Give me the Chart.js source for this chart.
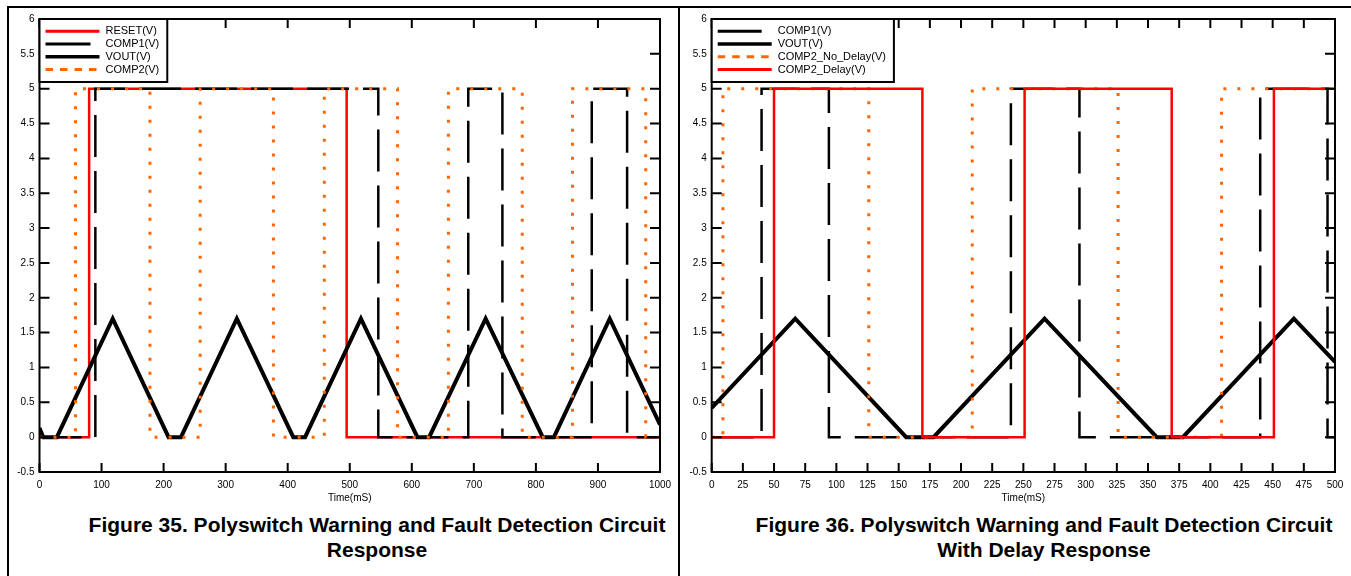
<!DOCTYPE html>
<html lang="en">
<head>
<meta charset="UTF-8" />
<title>Polyswitch Warning and Fault Detection Circuit</title>
<script src="https://cdn.jsdelivr.net/npm/chart.js"></script>
<style>
  body {
    margin: 0;
    background: #fff;
    font-family: "Liberation Sans", Arial, sans-serif;
  }
  #page {
    position: relative;
    width: 1351px;
    height: 576px;
    overflow: hidden;
  }
  .rule {
    position: absolute;
    background: #000;
  }
  .plot {
    position: absolute;
    top: 0;
  }
  .caption {
    position: absolute;
    width: 640px;
    top: 512px;
    font-weight: bold;
    font-size: 21px;
    line-height: 25px;
    text-align: center;
    white-space: nowrap;
    color: #000;
  }
</style>
</head>
<body>
<div id="page">
  <div class="rule" style="left:7px;top:6px;width:1344px;height:2px"></div>
  <div class="rule" style="left:7px;top:6px;width:2px;height:570px"></div>
  <div class="rule" style="left:678px;top:6px;width:2px;height:570px"></div>

  <div class="plot" style="left:0"><canvas id="fig35" width="680" height="510"></canvas></div>
  <div class="plot" style="left:680px"><canvas id="fig36" width="671" height="510"></canvas></div>

  <div class="caption" style="left:57px">Figure 35. Polyswitch Warning and Fault Detection Circuit<br>Response</div>
  <div class="caption" style="left:724px">Figure 36. Polyswitch Warning and Fault Detection Circuit<br>With Delay Response</div>
</div>

<script>
  // Figure 35, time in ms, level in V (step series list the value that starts at each time)
  const f35ResetT = [0, 80, 495, 1000];
  const f35ResetV = [0, 5, 0, 0];
  const f35Comp1T = [0, 90, 546, 691, 746, 890, 947, 1000];
  const f35Comp1V = [0, 5, 0, 5, 0, 5, 0, 0];
  const f35VoutT = [0, 6, 28, 118, 208, 228, 318, 409, 428, 518, 609, 628, 719, 811, 829, 919, 1000];
  const f35VoutV = [0.13, 0, 0, 1.7, 0, 0, 1.7, 0, 0, 1.7, 0, 0, 1.7, 0, 0, 1.7, 0.18];
  const f35Comp2T = [0, 58, 178, 259, 377, 459, 577, 659, 778, 859, 977, 1000];
  const f35Comp2V = [0, 5, 0, 5, 0, 5, 0, 5, 0, 5, 0, 0];

  // Figure 36
  const f36Comp1T = [0, 40, 94, 240, 295, 440, 494, 500];
  const f36Comp1V = [0, 5, 0, 5, 0, 5, 0, 0];
  const f36VoutT = [0, 67, 156, 178, 267, 357, 378, 467, 500];
  const f36VoutV = [0.42, 1.7, 0, 0, 1.7, 0, 0, 1.7, 1.08];
  const f36NoDelayT = [0, 9, 126, 209, 326, 409, 500];
  const f36NoDelayV = [0, 5, 0, 5, 0, 5, 5];
  const f36DelayT = [0, 50, 169, 251, 369, 451, 500];
  const f36DelayV = [0, 5, 0, 5, 0, 5, 5];

  // axis ticks
  const yTicks = [-0.5, 0, 0.5, 1, 1.5, 2, 2.5, 3, 3.5, 4, 4.5, 5, 5.5, 6];
  const f35XTicks = [0, 100, 200, 300, 400, 500, 600, 700, 800, 900, 1000];
  const f36XTicks = [0, 25, 50, 75, 100, 125, 150, 175, 200, 225, 250, 275, 300, 325, 350, 375, 400, 425, 450, 475, 500];

  const ORANGE = "#ff6600";
  const RED = "#ff0000";

  Chart.defaults.font.family = '"Liberation Sans", Arial, sans-serif';
  Chart.defaults.font.size = 10;
  Chart.defaults.color = "#000";

  function toPoints(t, v) {
    return t.map((x, i) => ({ x: x, y: v[i] }));
  }

  // plot box, inward ticks on all four sides, and the boxed legend
  const framePlugin = {
    id: "frame",
    afterDraw(chart) {
      const { ctx, chartArea: a } = chart;
      const x = chart.scales.x;
      const y = chart.scales.y;
      ctx.save();
      ctx.strokeStyle = "#000";
      ctx.lineWidth = 2;
      ctx.beginPath();
      x.ticks.forEach((t) => {
        const px = x.getPixelForValue(t.value);
        ctx.moveTo(px, a.bottom);
        ctx.lineTo(px, a.bottom - 9);
        ctx.moveTo(px, a.top);
        ctx.lineTo(px, a.top + 9);
      });
      y.ticks.forEach((t) => {
        const py = y.getPixelForValue(t.value);
        ctx.moveTo(a.left, py);
        ctx.lineTo(a.left + 10, py);
        ctx.moveTo(a.right, py);
        ctx.lineTo(a.right - 10, py);
      });
      ctx.stroke();
      ctx.strokeRect(a.left, a.top, a.right - a.left, a.bottom - a.top);

      // legend
      const sets = chart.data.datasets;
      ctx.font = '11px "Liberation Sans", Arial, sans-serif';
      const maxW = Math.max(...sets.map((d) => ctx.measureText(d.label).width));
      const boxW = 66 + maxW + 8;
      const boxH = 63;
      ctx.fillStyle = "#fff";
      ctx.fillRect(a.left, a.top, boxW, boxH);
      ctx.strokeRect(a.left, a.top, boxW, boxH);
      sets.forEach((d, i) => {
        const yy = a.top + 12.3 + i * 12.75;
        ctx.beginPath();
        ctx.setLineDash(d.legendDash);
        ctx.lineWidth = d.legendWidth;
        ctx.strokeStyle = d.borderColor;
        ctx.moveTo(a.left + 6, yy);
        ctx.lineTo(a.left + 60, yy);
        ctx.stroke();
        ctx.setLineDash([]);
        ctx.fillStyle = "#000";
        ctx.textBaseline = "middle";
        ctx.fillText(d.label, a.left + 66, yy);
      });
      ctx.restore();
    },
  };

  function makeOptions(xMax, xTicks, yAxisWidth, rightPad) {
    return {
      responsive: false,
      animation: false,
      events: [],
      layout: { padding: { top: 19, right: rightPad, left: 0, bottom: 0 } },
      elements: { point: { radius: 0 }, line: { tension: 0 } },
      plugins: { legend: { display: false }, tooltip: { enabled: false } },
      scales: {
        x: {
          type: "linear",
          min: 0,
          max: xMax,
          grid: { display: false, drawTicks: false },
          border: { display: false },
          afterBuildTicks: (s) => {
            s.ticks = xTicks.map((v) => ({ value: v }));
          },
          afterFit: (s) => {
            s.height = 38;
          },
          ticks: { padding: 7, autoSkip: false, maxRotation: 0, callback: (v) => String(v) },
          title: { display: true, text: "Time(mS)", padding: { top: 0, bottom: 6 }, font: { size: 10 } },
        },
        y: {
          min: -0.5,
          max: 6,
          grid: { display: false, drawTicks: false },
          border: { display: false },
          afterBuildTicks: (s) => {
            s.ticks = yTicks.map((v) => ({ value: v }));
          },
          afterFit: (s) => {
            s.width = yAxisWidth;
          },
          ticks: { padding: 5, callback: (v) => String(v) },
        },
      },
    };
  }

  new Chart(document.getElementById("fig35"), {
    type: "line",
    data: {
      datasets: [
        {
          label: "RESET(V)",
          data: toPoints(f35ResetT, f35ResetV),
          stepped: true,
          borderColor: RED,
          borderWidth: 2.5,
          order: 4,
          legendDash: [],
          legendWidth: 3,
        },
        {
          label: "COMP1(V)",
          data: toPoints(f35Comp1T, f35Comp1V),
          stepped: true,
          borderColor: "#000",
          borderWidth: 2.5,
          borderDash: [42, 14],
          order: 3,
          legendDash: [45, 20],
          legendWidth: 3,
        },
        {
          label: "VOUT(V)",
          data: toPoints(f35VoutT, f35VoutV),
          borderColor: "#000",
          borderWidth: 4,
          order: 2,
          legendDash: [],
          legendWidth: 3.5,
        },
        {
          label: "COMP2(V)",
          data: toPoints(f35Comp2T, f35Comp2V),
          stepped: true,
          borderColor: ORANGE,
          borderWidth: 3,
          borderDash: [3, 11],
          order: 1,
          legendDash: [7.5, 7],
          legendWidth: 3,
        },
      ],
    },
    options: makeOptions(1000, f35XTicks, 39.5, 20),
    plugins: [framePlugin],
  });

  new Chart(document.getElementById("fig36"), {
    type: "line",
    data: {
      datasets: [
        {
          label: "COMP1(V)",
          data: toPoints(f36Comp1T, f36Comp1V),
          stepped: true,
          borderColor: "#000",
          borderWidth: 2.5,
          borderDash: [42, 14],
          order: 4,
          legendDash: [44, 20],
          legendWidth: 3,
        },
        {
          label: "VOUT(V)",
          data: toPoints(f36VoutT, f36VoutV),
          borderColor: "#000",
          borderWidth: 4,
          order: 3,
          legendDash: [],
          legendWidth: 3.5,
        },
        {
          label: "COMP2_No_Delay(V)",
          data: toPoints(f36NoDelayT, f36NoDelayV),
          stepped: true,
          borderColor: ORANGE,
          borderWidth: 3,
          borderDash: [3, 11],
          order: 2,
          legendDash: [7.5, 7],
          legendWidth: 3,
        },
        {
          label: "COMP2_Delay(V)",
          data: toPoints(f36DelayT, f36DelayV),
          stepped: true,
          borderColor: RED,
          borderWidth: 2.5,
          order: 1,
          legendDash: [],
          legendWidth: 3,
        },
      ],
    },
    options: makeOptions(500, f36XTicks, 31.7, 16),
    plugins: [framePlugin],
  });
</script>
</body>
</html>
